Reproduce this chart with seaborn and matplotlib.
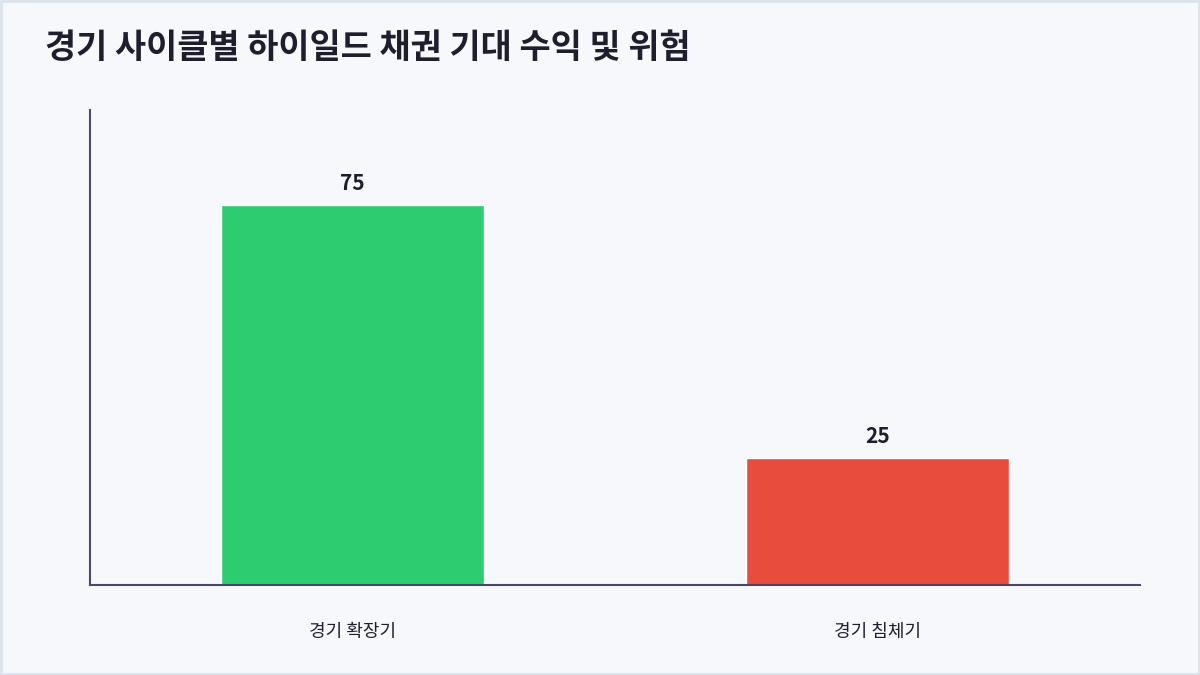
import matplotlib
matplotlib.use('Agg')
import matplotlib.pyplot as plt
import seaborn as sns
import pandas as pd

# data
categories = ['경기 확장기', '경기 침체기']
values = [75, 25]
bar_colors = ['#2ecc71', '#e74c3c']

sns.set_theme(style='white')
plt.rcParams['font.family'] = ['Noto Sans CJK KR', 'DejaVu Sans']

bg = '#f7f8fc'
text_dark = '#1e1e2e'
spine_col = '#4a4868'

df = pd.DataFrame({'cycle': categories, 'value': values})

fig = plt.figure(figsize=(12, 6.75), dpi=100, facecolor=bg)
ax = fig.add_axes([90 / 1200, 1 - 585 / 675, 1050 / 1200, 475 / 675])
ax.set_facecolor(bg)

sns.barplot(data=df, x='cycle', y='value', hue='cycle', palette=bar_colors,
            width=0.5, legend=False, ax=ax, saturation=1)

for c in ax.containers:
    ax.bar_label(c, fmt='%d', padding=8, fontsize=15, fontweight='bold', color=text_dark)

ax.set_xlim(-0.5, 1.5)
ax.set_ylim(0, 93.75)
ax.set_xlabel('')
ax.set_ylabel('')
ax.set_yticks([])
ax.tick_params(axis='x', length=0, pad=27, labelsize=13, labelcolor=text_dark)

for s in ['top', 'right']:
    ax.spines[s].set_visible(False)
for s in ['left', 'bottom']:
    ax.spines[s].set_color(spine_col)
    ax.spines[s].set_linewidth(1.5)

fig.text(45 / 1200, 1 - 58 / 675, '경기 사이클별 하이일드 채권 기대 수익 및 위험',
         fontsize=24.4, fontweight='bold', color=text_dark, va='baseline', ha='left')

# light frame around figure
border = plt.Rectangle((0.001, 0.0015), 0.998, 0.997, transform=fig.transFigure,
                       fill=False, edgecolor='#dde3ec', linewidth=2)
fig.patches.append(border)

fig.savefig('out.png', dpi=100, facecolor=bg)
